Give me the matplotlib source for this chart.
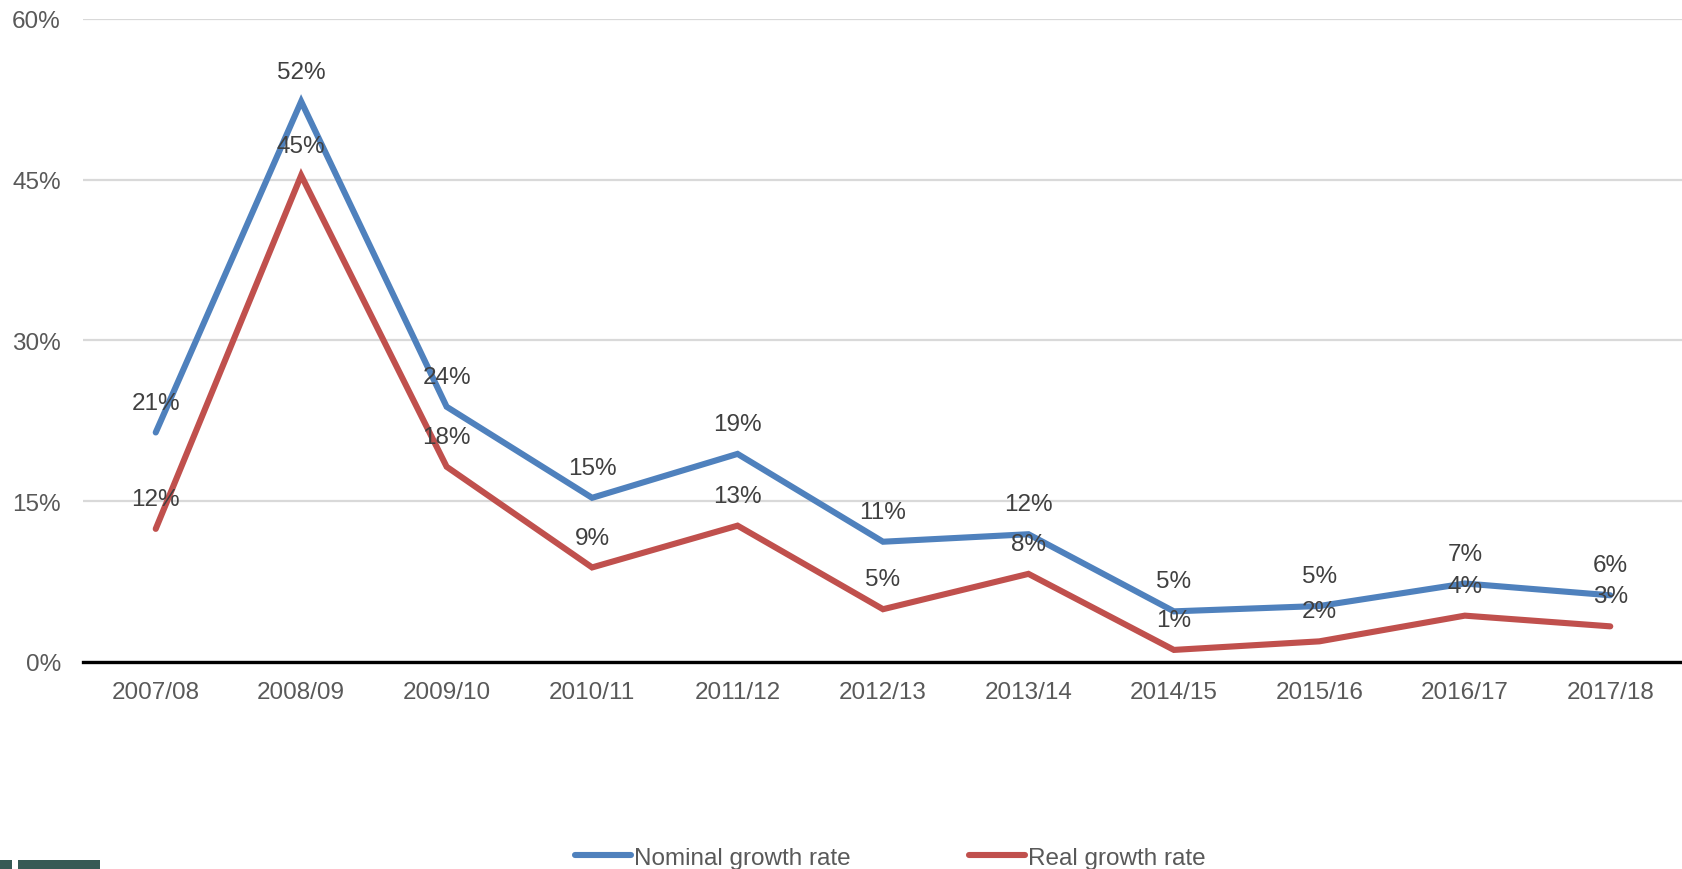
import matplotlib
matplotlib.use("Agg")
import matplotlib.pyplot as plt
from matplotlib.patches import Rectangle
from matplotlib.ticker import FuncFormatter

plt.rcParams['font.family'] = ['Liberation Sans', 'DejaVu Sans']

years = ["2007/08", "2008/09", "2009/10", "2010/11", "2011/12", "2012/13",
         "2013/14", "2014/15", "2015/16", "2016/17", "2017/18"]
nominal = [21.4, 52.3, 23.8, 15.3, 19.4, 11.2, 11.9, 4.7, 5.2, 7.3, 6.2]
real = [12.4, 45.4, 18.2, 8.8, 12.7, 4.9, 8.2, 1.1, 1.9, 4.3, 3.3]
yticks = [0, 15, 30, 45, 60]

W, H, DPI = 1683, 870, 100
FS = 17.5
fig = plt.figure(figsize=(W / DPI, H / DPI), dpi=DPI)
ax = fig.add_axes([83 / W, 1 - 662.7 / H, 1 - 83 / W, (662.7 - 20) / H])

blue = "#4f81bd"
red = "#c0504d"
x = list(range(len(years)))

ax.plot(x, nominal, color=blue, lw=4.4, solid_capstyle="round",
        solid_joinstyle="miter", label="Nominal growth rate", zorder=3)
ax.plot(x, real, color=red, lw=4.4, solid_capstyle="round",
        solid_joinstyle="miter", label="Real growth rate", zorder=3)

for series in (nominal, real):
    for xi, v in zip(x, series):
        ax.annotate(f"{v:.0f}%", (xi, v), xytext=(0, 21.5),
                    textcoords="offset points", ha="center", va="center",
                    fontsize=FS, color="#404040", zorder=4)

ax.set_xlim(-0.5, len(years) - 0.5)
ax.set_ylim(0, 60)
ax.set_yticks(yticks)
ax.yaxis.set_major_formatter(FuncFormatter(lambda v, p: f"{v:.0f}%"))
ax.set_xticks(x)
ax.set_xticklabels(years)
ax.tick_params(axis="both", length=0, labelsize=FS, labelcolor="#595959")
ax.tick_params(axis="y", pad=16)
ax.tick_params(axis="x", pad=14)

ax.grid(axis="y", color="#d9d9d9", lw=1.6, zorder=0)
for s in ("top", "right", "left"):
    ax.spines[s].set_visible(False)
ax.spines["bottom"].set_color("black")
ax.spines["bottom"].set_linewidth(2.4)
ax.spines["bottom"].set_zorder(5)

fig.legend(loc="center", bbox_to_anchor=(0.529, 1 - 858.5 / H), ncol=2,
           frameon=False, fontsize=FS, labelcolor="#595959",
           handlelength=2.3, handletextpad=0.12, columnspacing=4.85)

# footer logo bars
for x0, x1 in ((0, 12), (18, 100)):
    fig.patches.append(Rectangle((x0 / W, 0), (x1 - x0) / W, 9 / H,
                                 transform=fig.transFigure,
                                 facecolor="#375a55", edgecolor="none"))

fig.savefig("out.png", dpi=DPI)
